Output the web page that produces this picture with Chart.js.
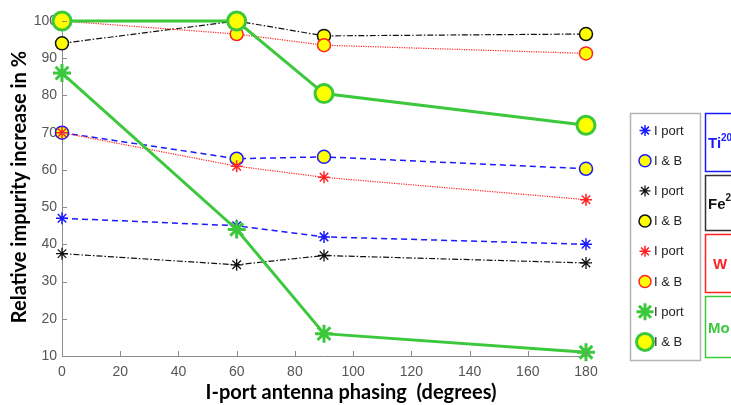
<!DOCTYPE html>
<html>
<head>
<meta charset="utf-8">
<script src="https://cdn.jsdelivr.net/npm/chart.js@4/dist/chart.umd.min.js"></script>
<style>
  html, body { margin: 0; padding: 0; background: #fff; overflow: hidden; }
  #wrap { position: relative; width: 731px; height: 405px; }
</style>
</head>
<body>
<div id="wrap"><canvas id="c" width="731" height="405"></canvas></div>
<script>
// I-port antenna phasing (degrees)
const phasing = [0, 60, 90, 180];

// Relative impurity increase (%) per species, I-port only and I-port + B
const tiIport = [47, 45, 42, 40];
const tiIB    = [70, 63, 63.5, 60.3];
const feIport = [37.5, 34.5, 37, 35];
const feIB    = [94, 100, 96, 96.5];
const wIport  = [70, 61, 58, 52];
const wIB     = [100, 96.5, 93.5, 91.3];
const moIport = [86, 44, 16, 11];
const moIB    = [100, 100, 80.5, 72];

const xTicks = [0, 20, 40, 60, 80, 100, 120, 140, 160, 180];
const yTicks = [10, 20, 30, 40, 50, 60, 70, 80, 90, 100];

const legendLabels = ['I port', 'I & B'];
const speciesNames = [['Ti', '20'], ['Fe', '23'], ['W', ''], ['Mo', '']];

const BLUE = '#1a1aff', BLACK = '#111111', RED = '#ff2222', GREEN = '#3cc83c', YELLOW = '#ffff00';
const speciesColors = [BLUE, BLACK, RED, GREEN];

function pts(arr) { return arr.map((v, i) => ({ x: phasing[i], y: v })); }

function starSet(data, color, dash, width, radius, pw) {
  return {
    data: pts(data), borderColor: color, backgroundColor: color,
    borderWidth: width, borderDash: dash, pointStyle: 'star',
    pointRadius: radius, pointBorderWidth: pw, pointBorderColor: color,
    pointBackgroundColor: color, clip: false, tension: 0
  };
}
function circSet(data, color, dash, width, radius, pw) {
  return {
    data: pts(data), borderColor: color, backgroundColor: YELLOW,
    borderWidth: width, borderDash: dash, pointStyle: 'circle',
    pointRadius: radius, pointBorderWidth: pw, pointBorderColor: color,
    pointBackgroundColor: YELLOW, clip: false, tension: 0
  };
}

const datasets = [
  starSet(tiIport, BLUE, [6, 4], 1.5, 6, 1.5),
  circSet(tiIB, BLUE, [6, 4], 1.5, 6.5, 1.5),
  starSet(feIport, BLACK, [6, 2, 1.5, 2], 1.2, 6, 1.3),
  circSet(feIB, BLACK, [6, 2, 1.5, 2], 1.2, 6.5, 1.5),
  starSet(wIport, RED, [1.2, 1.2], 1.2, 6, 1.5),
  circSet(wIB, RED, [1.2, 1.2], 1.2, 6.5, 1.5),
  starSet(moIport, GREEN, [], 3, 9, 3),
  circSet(moIB, GREEN, [], 3, 9, 3)
];
// later series are drawn on top of earlier ones
datasets.forEach((ds, i) => { ds.order = -i; });

const decorations = {
  id: 'decorations',
  afterDraw(chart) {
    const ctx = chart.ctx;
    const xs = chart.scales.x, ys = chart.scales.y;
    ctx.save();
    // inward tick marks
    ctx.strokeStyle = '#8c8c8c';
    ctx.lineWidth = 1;
    xTicks.forEach(t => {
      const px = Math.round(xs.getPixelForValue(t)) + 0.5;
      ctx.beginPath(); ctx.moveTo(px, ys.bottom); ctx.lineTo(px, ys.bottom - 5); ctx.stroke();
    });
    yTicks.forEach(t => {
      const py = Math.round(ys.getPixelForValue(t)) + 0.5;
      ctx.beginPath(); ctx.moveTo(xs.left, py); ctx.lineTo(xs.left + 5, py); ctx.stroke();
    });

    // axis titles
    ctx.fillStyle = '#000';
    ctx.font = 'bold 20px Lato';
    ctx.textAlign = 'center';
    ctx.textBaseline = 'middle';
    ctx.fillText('I-port antenna phasing  (degrees)', 351, 393);
    ctx.translate(20, 187);
    ctx.rotate(-Math.PI / 2);
    ctx.fillText('Relative impurity increase in %', 0, 0);
    ctx.restore();

    // legend box
    ctx.save();
    ctx.strokeStyle = '#b4b4b4';
    ctx.lineWidth = 1.5;
    ctx.strokeRect(630.5, 113.5, 70, 247);
    chart.data.datasets.forEach((ds, i) => {
      const y = 130.5 + i * 30.2;
      const big = ds.pointRadius > 8;
      ctx.fillStyle = ds.pointBackgroundColor;
      ctx.strokeStyle = ds.pointBorderColor;
      ctx.lineWidth = ds.pointBorderWidth;
      ctx.setLineDash([]);
      Chart.helpers.drawPoint(ctx, {
        pointStyle: ds.pointStyle, radius: big ? ds.pointRadius - 0.5 : ds.pointRadius - 0.5,
        rotation: 0, borderWidth: ds.pointBorderWidth
      }, 645, y);
      ctx.font = '13px "Liberation Sans"';
      ctx.textAlign = 'left';
      ctx.textBaseline = 'middle';
      ctx.fillStyle = '#222';
      ctx.fillText(legendLabels[i % 2], 654, y + 0.5);
    });
    ctx.restore();

    // species boxes
    ctx.save();
    const boxes = [[113, 171], [175, 230], [234, 292], [296, 357]];
    boxes.forEach((b, i) => {
      const col = i === 1 ? '#333' : speciesColors[i];
      ctx.strokeStyle = col;
      ctx.lineWidth = 1.5;
      ctx.strokeRect(705.5, b[0] + 0.5, 60, b[1] - b[0]);
      const [name, sup] = speciesNames[i];
      ctx.fillStyle = col === '#333' ? '#111' : col;
      ctx.font = 'bold 15px "Liberation Sans"';
      ctx.textAlign = 'left';
      ctx.textBaseline = 'middle';
      const cy = (b[0] + b[1]) / 2;
      const tx = sup ? 708 : (name === 'W' ? 713 : 708);
      ctx.fillText(name, tx, cy + 2);
      if (sup) {
        const w = ctx.measureText(name).width;
        ctx.font = 'bold 10px "Liberation Sans"';
        ctx.fillText(sup, tx + w, cy - 4);
      }
    });
    ctx.restore();
  }
};

new Chart(document.getElementById('c'), {
  type: 'line',
  data: { datasets },
  options: {
    responsive: false,
    animation: false,
    devicePixelRatio: 1,
    layout: { padding: { left: 0, top: 21, right: 145, bottom: 0 } },
    plugins: { legend: { display: false }, tooltip: { enabled: false } },
    scales: {
      x: {
        type: 'linear', min: 0, max: 180,
        afterFit(s) { s.height = 49; },
        afterBuildTicks(s) { s.ticks = xTicks.map(v => ({ value: v })); },
        grid: { display: false, drawTicks: false },
        border: { display: true, color: '#8c8c8c', width: 1 },
        ticks: { color: '#555', font: { family: 'Liberation Sans', size: 14 }, padding: 8, maxRotation: 0 }
      },
      y: {
        type: 'linear', min: 10, max: 100,
        afterFit(s) { s.width = 62; },
        afterBuildTicks(s) { s.ticks = yTicks.map(v => ({ value: v })); },
        grid: { display: false, drawTicks: false },
        border: { display: true, color: '#8c8c8c', width: 1 },
        ticks: { color: '#555', font: { family: 'Liberation Sans', size: 14 }, padding: 5 }
      }
    }
  },
  plugins: [decorations]
});
</script>
</body>
</html>
